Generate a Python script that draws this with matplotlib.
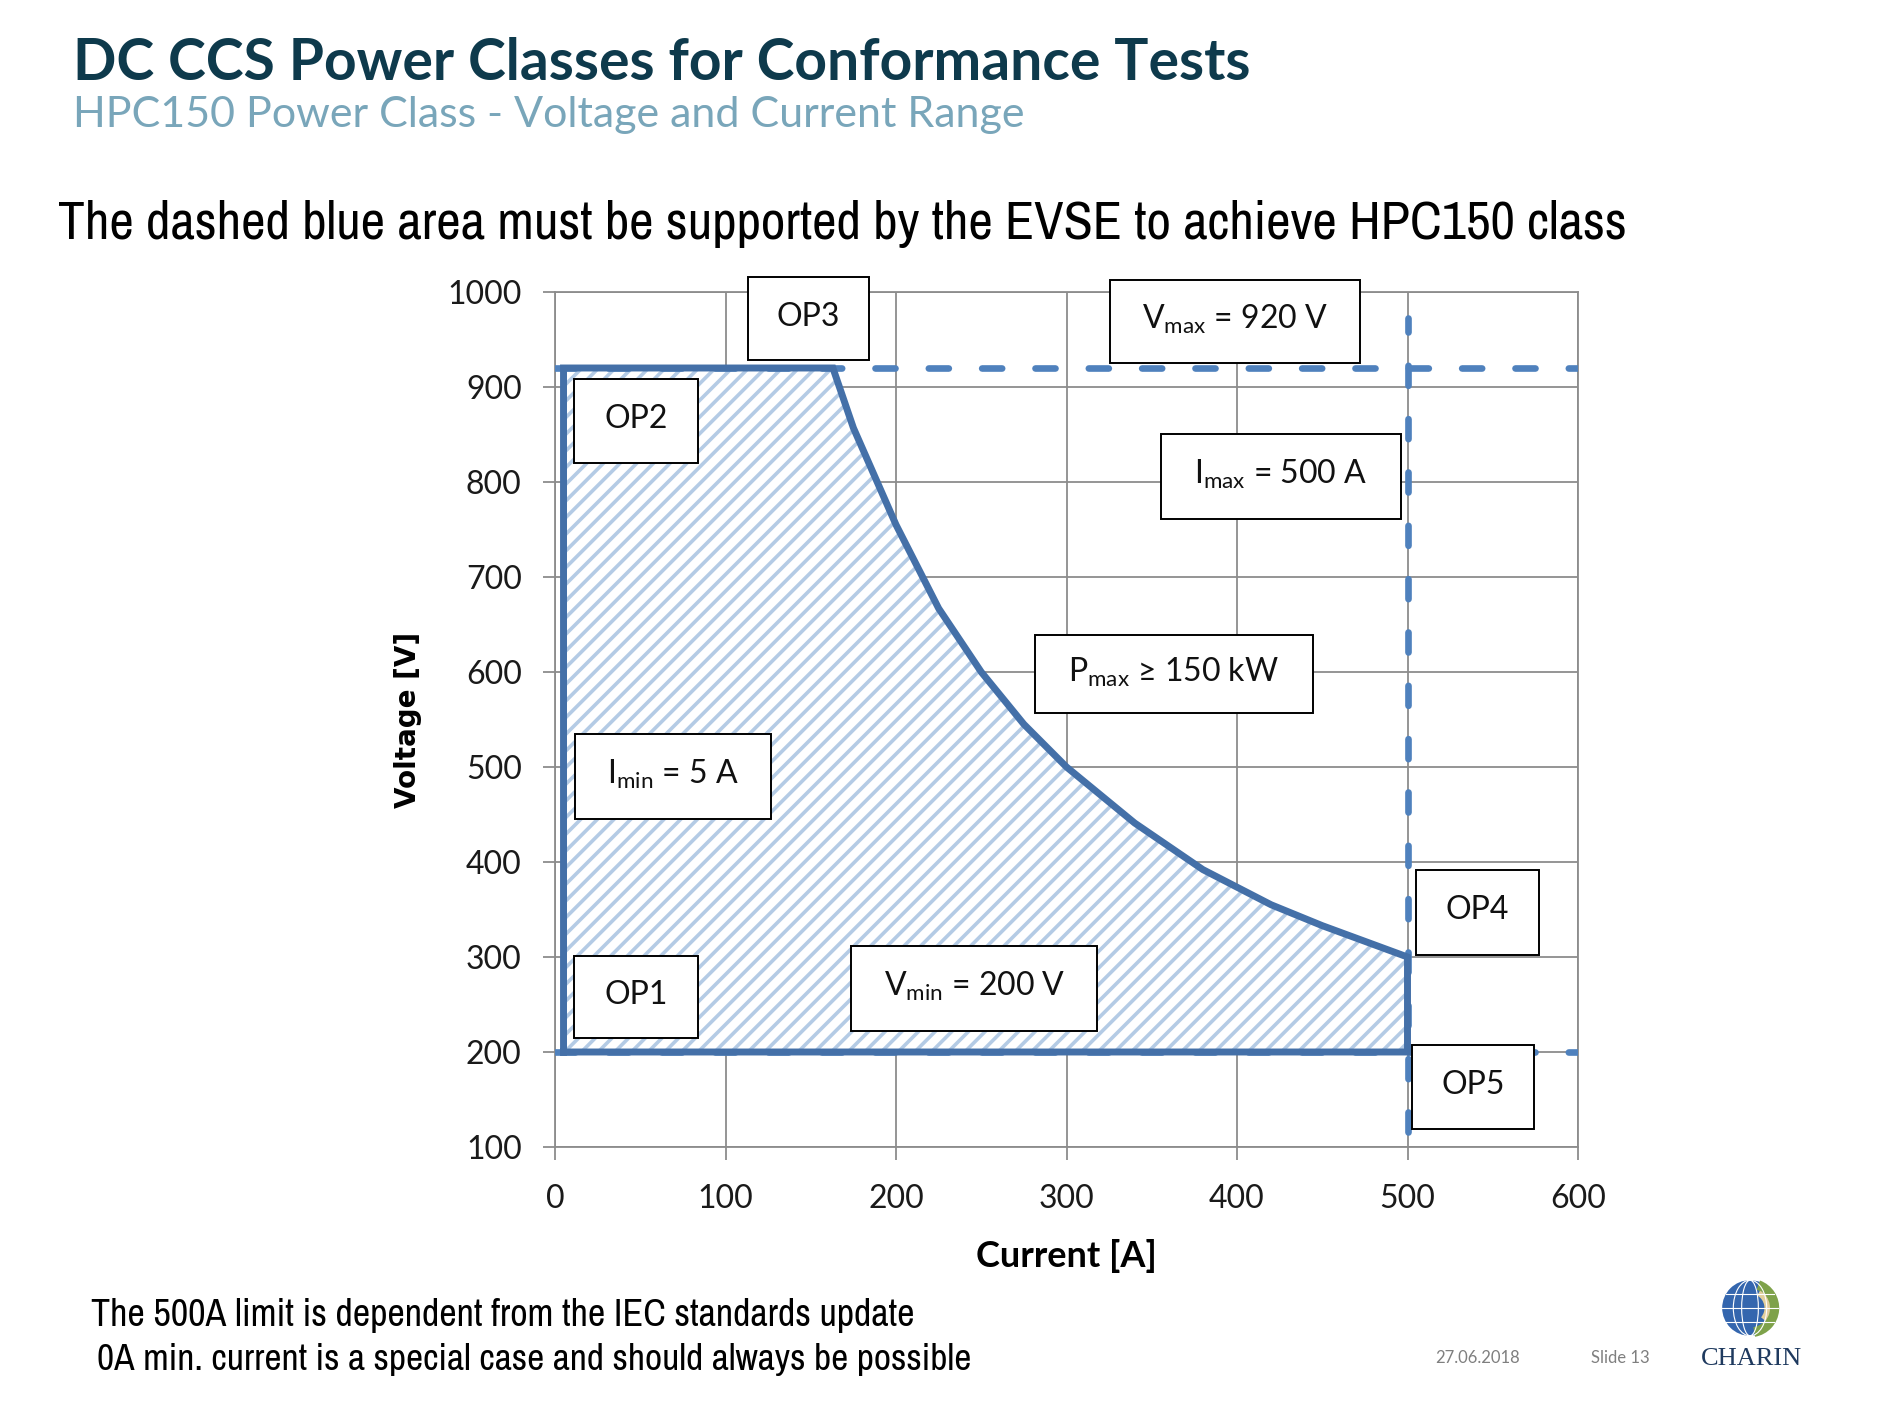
import matplotlib.pyplot as plt
from matplotlib import font_manager as fm
from matplotlib.patches import Rectangle, Circle, Wedge, Ellipse

# HPC150 envelope
i_min, i_max = 5, 500
v_min, v_max = 200, 920
# 150 kW edge
curve_i = [163, 175, 200, 225, 250, 275, 300, 340, 380, 420, 450, 500]
curve_v = [920, 857, 755, 667, 600, 545, 500, 441, 392, 355, 333, 300]

x_ticks = [0, 100, 200, 300, 400, 500, 600]
y_ticks = [100, 200, 300, 400, 500, 600, 700, 800, 900, 1000]

box_texts = ['OP3', 'OP2', r'V$_{\rm max}$ = 920 V', r'I$_{\rm max}$ = 500 A',
             r'P$_{\rm max}$ ≥ 150 kW', r'I$_{\rm min}$ = 5 A', 'OP4', 'OP1',
             r'V$_{\rm min}$ = 200 V', 'OP5']

plt.rcParams['font.family'] = ['Lato', 'DejaVu Sans']
plt.rcParams['mathtext.fontset'] = 'custom'
plt.rcParams['mathtext.rm'] = 'Lato'
plt.rcParams['hatch.linewidth'] = 2.6

# pick a narrow face for the slide text if one is installed
narrow, stretch = 'Liberation Sans', 'normal'
for f in fm.fontManager.ttflist:
    if 'Narrow' in f.name or 'Condensed' in f.name:
        narrow, stretch = f.name, 'normal'
        break
    if f.name == 'DejaVu Sans' and str(f.stretch) in ('condensed', 'semi-condensed'):
        narrow, stretch = 'DejaVu Sans', 'condensed'

W, H = 1900, 1401
fig = plt.figure(figsize=(W / 100, H / 100), dpi=100)
ax = fig.add_axes([555 / W, 1 - 1147 / H, 1023 / W, 855 / H])

grid_c = '#8C8C8C'
line_c = '#4470A8'
dash_c = '#4F81BD'

# envelope
env_i = [i_min, i_min] + curve_i + [i_max, i_min]
env_v = [v_min, v_max] + curve_v + [v_min, v_min]
ax.fill(env_i, env_v, facecolor='white', edgecolor='#B4CBE5', hatch='//',
        linewidth=0, zorder=2)

# limit lines
for v in (v_max, v_min):
    ax.axhline(v, color=dash_c, lw=4.8, dashes=(3, 5), dash_capstyle='round', zorder=3)
ax.axvline(i_max, 0.017, 0.97, color=dash_c, lw=4.8, dashes=(3, 5),
           dash_capstyle='round', zorder=3)
ax.plot(env_i, env_v, color=line_c, lw=5, solid_joinstyle='miter', zorder=4)

ax.set_xlim(0, 600)
ax.set_ylim(100, 1000)
ax.set_xticks(x_ticks)
ax.set_yticks(y_ticks)
ax.grid(True, color=grid_c, lw=1.3, zorder=1)
ax.set_axisbelow(True)
for s in ax.spines.values():
    s.set_color(grid_c)
    s.set_linewidth(1.3)
ax.tick_params(direction='out', length=9, width=1.3, color=grid_c,
               labelsize=23, labelcolor='#1a1a1a')
ax.tick_params(axis='y', pad=15)
ax.tick_params(axis='x', pad=18)

ax.set_xlabel('Current [A]', fontsize=26, fontweight='bold', va='center')
ax.xaxis.set_label_coords(0.5, -0.128)
ax.set_ylabel('Voltage [V]', fontsize=20, fontweight='bold', va='center',
              family='DejaVu Sans')
ax.yaxis.set_label_coords(-0.1437, 0.5)

# annotation boxes: centre and size in data units
box_layout = [(148.6, 972, 71, 87), (47.6, 864, 72.5, 89), (398.8, 969, 146.4, 88),
              (425.8, 806, 140.8, 89), (363, 598, 163.5, 82), (69, 490, 115, 89),
              (541, 347, 72.5, 89), (47.6, 258, 72.5, 87), (246, 267, 144.3, 89),
              (538.5, 163, 71.8, 88)]
for txt, (cx, cy, bw, bh) in zip(box_texts, box_layout):
    ax.add_patch(Rectangle((cx - bw / 2, cy - bh / 2), bw, bh, facecolor='white',
                           edgecolor='black', lw=1.4, zorder=5, clip_on=False))
    ax.text(cx, cy + 2, txt, ha='center', va='center', fontsize=23, color='#111111',
            zorder=6, clip_on=False)

# slide texts
fig.text(73 / W, 1 - 80 / H, 'DC CCS Power Classes for Conformance Tests',
         fontsize=41, fontweight='bold', color='#0E3A4C', va='baseline')
fig.text(73 / W, 1 - 127 / H, 'HPC150 Power Class - Voltage and Current Range',
         fontsize=31, color='#79A6BA', va='baseline')

slide_lines = [
    (58, 239, 1568, 'The dashed blue area must be supported by the EVSE to achieve HPC150 class'),
    (91, 1326, 826, 'The 500A limit is dependent from the IEC standards update'),
    (97, 1370, 873, '0A min. current is a special case and should always be possible'),
]
renderer = fig.canvas.get_renderer()
for x, y, width, s in slide_lines:
    t = fig.text(x / W, 1 - y / H, s, fontsize=30, family=narrow, stretch=stretch,
                 color='black', va='baseline')
    bb = t.get_window_extent(renderer)
    t.set_fontsize(30 * width / bb.width)

fig.text(1478 / W, 1 - 1358 / H, '27.06.2018', fontsize=12, color='#7F7F7F',
         ha='center', va='center')
fig.text(1620 / W, 1 - 1358 / H, 'Slide 13', fontsize=12, color='#7F7F7F',
         ha='center', va='center')

# CharIN logo
lax = fig.add_axes([1718 / W, 1 - 1340 / H, 64 / W, 64 / H])
lax.set_xlim(-1.15, 1.15)
lax.set_ylim(-1.15, 1.15)
lax.set_aspect('equal')
lax.axis('off')
lax.add_patch(Circle((0, 0), 1, facecolor='#3466AE', edgecolor='none'))
lax.add_patch(Wedge((0, 0), 1.05, -80, 70, width=0.35, facecolor='#7EA24A'))
lax.add_patch(Wedge((0, 0), 0.72, -40, 60, width=0.2, facecolor='#E3CF9C'))
for k in (0.3, 0.6):
    lax.add_patch(Ellipse((0, 0), 2 * k, 2, facecolor='none', edgecolor='white', lw=0.8))
for y in (-0.5, 0, 0.5):
    lax.plot([-(1 - y * y) ** 0.5, (1 - y * y) ** 0.5], [y, y], color='white', lw=0.8)
fig.text(1751 / W, 1 - 1365 / H, 'CHARIN', fontsize=19, family='Liberation Serif',
         color='#1F3A5F', ha='center', va='baseline')

plt.savefig('out.png', dpi=100)
